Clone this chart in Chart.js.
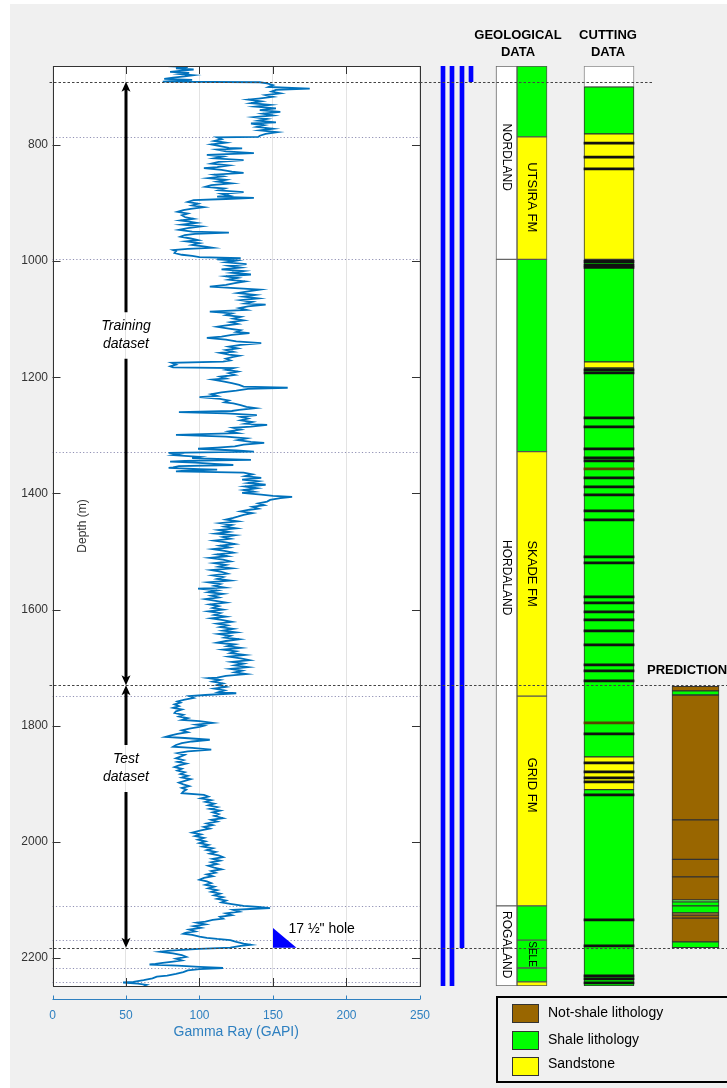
<!DOCTYPE html>
<html>
<head>
<meta charset="utf-8">
<script src="https://cdn.jsdelivr.net/npm/chart.js@4.4.1/dist/chart.umd.min.js"></script>
<style>
  html, body { margin: 0; padding: 0; background: #fff; }
  #page { position: relative; width: 727px; height: 1088px; overflow: hidden;
          font-family: "Liberation Sans", Arial, sans-serif; }
  #fig { position: absolute; left: 10px; top: 4px; right: 0; bottom: 0; background: #f0f0f0; }
  #logChart { position: absolute; left: 0; top: 0; }
  #trackChart { position: absolute; left: 420px; top: 0; }
  .hdr { position: absolute; font-weight: bold; font-size: 13px; line-height: 17px;
         text-align: center; color: #000; white-space: nowrap; }
  #legend { position: absolute; left: 496px; top: 996px; width: 245px; height: 87px;
            box-sizing: border-box; border: 2px solid #000; }
  .sw { position: absolute; left: 14px; width: 27px; height: 19px; box-sizing: border-box;
        border: 1px solid #333; }
  .lb { position: absolute; left: 50px; font-size: 14px; line-height: 19px; color: #000; white-space: nowrap; }
</style>
</head>
<body>
<div id="page">
  <div id="fig"></div>
  <canvas id="logChart" width="452" height="1088"></canvas>
  <canvas id="trackChart" width="307" height="1088"></canvas>
  <div class="hdr" style="left:468px;top:26px;width:100px;">GEOLOGICAL<br>DATA</div>
  <div class="hdr" style="left:558px;top:26px;width:100px;">CUTTING<br>DATA</div>
  <div class="hdr" style="left:647px;top:661px;text-align:left;">PREDICTION</div>
  <div id="legend">
    <div class="sw" style="top:6px;background:#996600;"></div>
    <div class="lb" style="top:5px;">Not-shale lithology</div>
    <div class="sw" style="top:33px;background:#00ff00;"></div>
    <div class="lb" style="top:32px;">Shale lithology</div>
    <div class="sw" style="top:59px;background:#ffff00;"></div>
    <div class="lb" style="top:56px;">Sandstone</div>
  </div>
</div>
<script>
// ---- gamma ray log (depth in m, GR in GAPI) ----
const grDepth = [
  664,666,668,670,672,674,676,678,680,682, 684,686,688,690,691,
  692,694,697,700,703,705,708,711,714,717, 720,722,725,728,731,734,737,740,743,746,
  749,752,755,758,761,763,766,769,772,775, 778,781,784,786,
  787,790,793,796,799,802,805,806,808,811, 814,817,820,823,826,829,832,835,838,840,
  843,846,848,851,854,857,860,863,866,869, 872,875,878,881,884,887,889,891,893,895,
  898,901,904,907,910,912,915,918,921,924, 927,930,932,934,937,940,943,946,949,951,
  953,955,958,961,964,966,969,972,975,977, 979,981,983,986,989,991,993,995,997,
  999,1002,1005,1008,1011,1014,1017,1020,1023,1026, 1029,1032,1035,1038,1041,1044,1047,1049,1052,
  1055,1058,1061,1064,1067,1070,1073,1075,1078,1081, 1084,1087,1090,1093,1096,1099,1102,1105,1108,1111,
  1113,1116,1119,1122,1124,1127,1130,1132,1135,1138, 1141,1144,1147,1150,1153,1156,1158,1161,1163,1165,
  1168,1171,1173,
  1175,1178,1181,1183,1184,1187,1190,1193,1196,1199, 1202,1204,1207,1210,1213,1216,1218,1220,1223,1226,
  1229,1232,1234,1237,1240,1243,1245,1248,1251,1253, 1256,1258,1260,1262,1265,1268,1271,1274,1277,1280,
  1282,1285,1287,1290,1293,1296,1299,1302,1305,1308, 1311,1313,1316,1319,1321,1323,1326,1328,
  1330,1332,1334,1337,1339,1342,1344,1345,1347,1349, 1351,1353,1355,1356,1358,1359,1361,1362,1364,
  1367,1370,1373,1376,1379,1382,1385,1388,1391,1394, 1397,1399,1402,1404,1406,1408,1411,1414,1417,1420,
  1423,1426,1428,1431,1434,1437,1440,1442,
  1445,1448,1451,1454,1457,1460,1463,1466,1469,1472, 1475,1478,1481,1484,1487,1490,1493,1496,1499,1502,
  1505,1508,1511,1514,1517,1520,1523,1526,1529,1532, 1535,1538,1541,1544,1547,1550,1553,1556,1559,1562,
  1564,1567,1570,1573,1576,1579,1582,1585,1588,1591, 1594,1597,1600,
  1603,1606,1609,1612,1615,1618,1621,1624,1627,1630, 1633,1636,1639,1642,1645,1648,1651,1654,1657,1660,
  1663,1666,1669,1672,1675,1678,1681,1684,1687,1690, 1693,1696,1699,1702,1705,1708,1711,1714,1717,1718,
  1721,1724,1727,1730,1733,1736,1739,1742,1744,1747, 1749,
  1752,1755,1758,1760,1763,1766,1769,1772,1775,1778, 1781,1784,1787,1790,1792,1795,1798,1800,1802,1805,
  1808,1811,1814,1817,1819,1821,1824,1827,1830,1833, 1836,1838,1841,1844,1847,1850,1853,
  1856,1859,1862,1865,1868,1871,1874,1877,1880,1883, 1886,1889,1892,1895,1898,1901,1904,1907,1910,1913,
  1916,1919,
  1922,1925,1928,1931,1934,1937,1940,1943,1946,1949, 1952,1955,1959,1962,1965,1968,1971,1974,1977,1980,
  1984,1987,1990,1993,1996,1999,
  2002,2005,2008,2011,2014,2017,2020,2023,2026,2029, 2032,2035,2038,2041,2044,2047,2050,2053,2056,2059,
  2062,2065,2068,2071,2074,2077,2080,2083,2086,2089, 2092,2095,2098,2101,2104,2107,2110,2112,2114,2115,
  2117,
  2120,2123,2126,2129,2132,2134,2137,2139,2142,2145, 2148,2151,2154,2156,2158,2160,2163,2165,2167,2169,
  2172,2175,2177,2179,2182,2184,2187,2189,2192,2195, 2198,2201,2204,2206,2208,2210,2211,2213,2215,2217,
  2219,2221,2224,2227,2230,2232,2235,2238,2241,2242, 2244,2246,2248
];
const grValue = [
  78,92,84,96,88,80,93,87,96,90, 82,76,95,80,75,
  141,146,150,147,175,152,149,155,145,150, 140,133,142,135,148,138,152,141,155,143,
  150,137,146,140,152,135,144,139,150,141, 153,145,141,140,
  112,115,110,118,108,114,120,129,112,118, 137,105,116,110,130,113,108,120,112,103,
  115,122,130,110,116,106,118,112,122,108, 104,117,113,130,115,120,112,137,118,96,
  92,99,95,103,94,89,85,92,88,90, 96,87,93,98,88,101,92,86,95,120,
  97,90,87,94,99,91,100,95,104,109, 92,82,84,83,88,95,100,128,112,
  125,118,132,120,128,115,130,122,135,118, 126,120,131,124,118,107,127,141,133,
  126,138,130,140,128,136,131,145,133,127, 132,107,122,118,128,123,130,121,126,117,
  112,120,128,125,134,122,115,105,118,125, 142,128,120,126,118,123,114,120,127,123,
  118,121,116,
  81,84,80,82,123,118,126,120,124,114, 118,109,116,122,127,130,160,133,125,115,
  108,112,100,114,120,117,123,128,132,138, 127,122,86,118,139,128,133,128,136,131,
  146,135,123,128,120,126,84,118,132,126, 135,144,130,124,112,99,125,137,
  79,86,82,100,95,135,90,80,97,110, 123,86,82,79,100,112,88,84,130,
  136,131,142,129,140,133,145,131,139,130, 137,129,142,150,163,155,148,146,140,144,
  136,140,134,128,136,130,126,123,
  118,126,114,122,117,125,113,120,111,124, 116,121,110,118,124,114,120,109,117,123,
  112,119,107,116,121,110,118,113,122,108, 115,119,109,116,112,121,106,114,110,117,
  99,112,106,116,108,113,104,111,118,107, 113,109,116,
  106,114,110,118,108,116,122,112,119,114, 123,116,125,113,121,117,127,118,112,124,
  119,128,116,125,121,131,120,128,134,122, 130,124,133,121,129,124,132,118,112,106,
  114,109,116,112,118,110,117,113,125,104, 93,
  96,90,85,87,83,86,82,88,84,83, 89,86,92,88,100,109,98,103,100,93,
  88,92,85,80,77,90,107,95,88,84, 82,95,108,92,85,90,87,
  84,89,85,91,86,83,88,85,90,87, 92,88,94,90,86,89,93,88,91,89,
  88,103,
  106,101,108,104,110,106,112,107,114,109, 113,110,116,108,112,105,109,103,107,101,
  95,101,97,103,99,104,
  100,106,102,109,105,111,107,113,116,109, 114,108,112,106,110,115,108,111,105,109,
  103,100,105,108,104,110,106,112,108,114, 110,116,112,118,115,122,130,140,148,138,
  123,
  127,118,122,114,116,109,104,98,104,96, 101,93,97,91,89,95,100,105,112,121,
  125,130,135,128,121,100,80,73,82,88, 91,84,88,82,75,70,66,85,100,116,
  100,92,89,84,78,71,68,62,55,48, 58,64,62
];
if (grDepth.length !== grValue.length) throw new Error('GR arrays differ: ' + grDepth.length + ' / ' + grValue.length);

const depthTicks = [800, 1000, 1200, 1400, 1600, 1800, 2000, 2200];

// dataset split / casing markers (dashed lines) and arrow texts
const splitDepths = [691, 1730, 2182];
const trainRange = [691, 1730], trainGap = [1088, 1168];
const testRange = [1730, 2182], testGap = [1833, 1914];
const holeTop = 2148, holeBase = 2182, holeGR = [150, 166];

// ---- geological data ----
const groupTop = [664, 997, 2110];
const groupBase = [997, 2110, 2248];
const groupName = ['NORDLAND', 'HORDALAND', 'ROGALAND'];
const groupLabelDepth = [821, 1545, 2177];

const formTop = [664, 786, 997, 1328, 1749, 2110, 2169, 2217, 2241];
const formBase = [786, 997, 1328, 1749, 2110, 2169, 2217, 2241, 2248];
const formLith = ['shale', 'sand', 'shale', 'sand', 'sand', 'shale', 'shale', 'shale', 'sand'];
const formName = ['', 'UTSIRA FM', '', 'SKADE FM', 'GRID FM', '', 'SELE', '', ''];
const formLabelDepth = [0, 890, 0, 1538, 1902, 0, 2193, 0, 0];

// ---- cutting data ----
const cutTop = [664, 700, 781, 997, 1173.5, 1184, 1853.5, 1910];
const cutBase = [700, 781, 997, 1173.5, 1184, 1853.5, 1910, 2248];
const cutLith = ['none', 'shale', 'sand', 'shale', 'sand', 'shale', 'sand', 'shale'];
const cutThinDepth = [796.6, 820.7, 841.3, 1000.6, 1006.3, 1010.9, 1187.3, 1192.5, 1270, 1285.4,
  1323.3, 1338.8, 1344, 1357.7, 1373.2, 1388.7, 1402.5, 1430, 1445.5, 1509.2,
  1519.5, 1578, 1588.3, 1603.9, 1617.7, 1636.6, 1660.7, 1695.2, 1705.5, 1722.7,
  1795, 1814, 1863.9, 1879.4, 1889.7, 1896.6, 1918.9, 2134, 2178.9, 2230.5, 2235.7, 2242.6];
const cutThinLith = ['sand', 'sand', 'sand', 'shale', 'shale', 'shale', 'shale', 'shale', 'shale', 'shale',
  'shale', 'shale', 'shale', 'notshale', 'shale', 'shale', 'shale', 'shale', 'shale', 'shale',
  'shale', 'shale', 'shale', 'shale', 'shale', 'shale', 'shale', 'shale', 'shale', 'shale',
  'notshale', 'shale', 'sand', 'sand', 'sand', 'sand', 'shale', 'shale', 'shale', 'shale', 'shale', 'shale'];

// ---- prediction ----
const predTop = [1732, 1740, 1747, 1962, 2030, 2060, 2100, 2103, 2110, 2122, 2126, 2131, 2172];
const predBase = [1740, 1747, 1962, 2030, 2060, 2100, 2103, 2110, 2122, 2126, 2131, 2172, 2182];
const predLith = ['notshale', 'shale', 'notshale', 'notshale', 'notshale', 'notshale', 'shale', 'shale',
  'shale', 'notshale', 'notshale', 'notshale', 'shale'];

// ---- casing strings (blue bars) ----
const casingTop = [664, 664, 664, 664];
const casingBase = [2248, 2248, 2182, 691];

const LITH_COLOR = { shale: '#00ff00', sand: '#ffff00', notshale: '#996600', none: '#ffffff' };
// thin cutting beds render as dark seams
const THIN_COLOR = { shale: '#111', sand: '#111', notshale: '#5a4400', none: '#111' };
const FONT = '"Liberation Sans", Arial, sans-serif';
const AXIS_BLUE = '#2f80c0';

// track layout of the right panel (x units = px of that canvas)
const TRACK_X = { casing: [23, 32, 42, 51], group: 86.5, formation: 112, cutting: 189, prediction: 275.5 };
const TRACK_W = { casing: 4, group: 21, formation: 30, cutting: 50, prediction: 47 };
const splitLineEnd = [232, 307, 307];

// ================= left chart: gamma ray log =================
const logDecor = {
  id: 'logDecor',
  beforeDraw(chart) {
    const { ctx, chartArea: a } = chart;
    ctx.save();
    ctx.fillStyle = '#fff';
    ctx.fillRect(a.left, a.top, a.right - a.left, a.bottom - a.top);
    ctx.restore();
  },
  beforeDatasetsDraw(chart) {
    const { ctx, chartArea: a, scales: { y } } = chart;
    ctx.save();
    ctx.strokeStyle = '#9090b4';
    ctx.lineWidth = 1;
    ctx.setLineDash([1.2, 2.2]);
    formTop.slice(1).forEach(d => {
      const py = Math.round(y.getPixelForValue(d)) + 0.5;
      ctx.beginPath(); ctx.moveTo(a.left, py); ctx.lineTo(a.right, py); ctx.stroke();
    });
    ctx.restore();
  },
  afterDatasetsDraw(chart) {
    const { ctx, chartArea: a, scales: { x, y } } = chart;
    ctx.save();
    // split lines
    ctx.strokeStyle = '#444';
    ctx.lineWidth = 1;
    ctx.setLineDash([2.5, 2]);
    splitDepths.forEach(d => {
      const py = Math.round(y.getPixelForValue(d)) + 0.5;
      ctx.beginPath(); ctx.moveTo(a.left - 3, py); ctx.lineTo(a.right, py); ctx.stroke();
    });
    ctx.setLineDash([]);

    // axes box and inward ticks
    ctx.strokeStyle = '#333';
    ctx.lineWidth = 1;
    ctx.strokeRect(Math.round(a.left) + 0.5, Math.round(a.top) + 0.5,
      Math.round(a.right - a.left), Math.round(a.bottom - a.top));
    ctx.beginPath();
    x.ticks.forEach(t => {
      if (t.value <= 0 || t.value >= 250) return;
      const px = Math.round(x.getPixelForValue(t.value)) + 0.5;
      ctx.moveTo(px, a.top); ctx.lineTo(px, a.top + 8);
      ctx.moveTo(px, a.bottom); ctx.lineTo(px, a.bottom - 8);
    });
    depthTicks.forEach(v => {
      const py = Math.round(y.getPixelForValue(v)) + 0.5;
      ctx.moveTo(a.left, py); ctx.lineTo(a.left + 8, py);
      ctx.moveTo(a.right, py); ctx.lineTo(a.right - 8, py);
    });
    ctx.stroke();

    // separate blue GR axis line
    const by = a.bottom + 13.5;
    ctx.strokeStyle = AXIS_BLUE;
    ctx.beginPath();
    ctx.moveTo(x.getPixelForValue(0), by); ctx.lineTo(x.getPixelForValue(250), by);
    x.ticks.forEach(t => {
      const px = Math.round(x.getPixelForValue(t.value)) + 0.5;
      ctx.moveTo(px, by); ctx.lineTo(px, by - 4);
    });
    ctx.stroke();

    // Depth (m) label
    ctx.fillStyle = '#333';
    ctx.font = '12px ' + FONT;
    ctx.textAlign = 'center';
    ctx.textBaseline = 'middle';
    ctx.translate(a.left + 30.5, (a.top + a.bottom) / 2);
    ctx.rotate(-Math.PI / 2);
    ctx.fillText('Depth (m)', 0, 0);
    ctx.setTransform(1, 0, 0, 1, 0, 0);

    // dataset arrows
    const ax = x.getPixelForValue(50);
    const arrow = (range, gap) => {
      const t = y.getPixelForValue(range[0]), b = y.getPixelForValue(range[1]);
      const g0 = y.getPixelForValue(gap[0]), g1 = y.getPixelForValue(gap[1]);
      ctx.strokeStyle = '#000';
      ctx.lineWidth = 3;
      ctx.beginPath();
      ctx.moveTo(ax, t + 6); ctx.lineTo(ax, g0);
      ctx.moveTo(ax, g1); ctx.lineTo(ax, b - 6);
      ctx.stroke();
      ctx.fillStyle = '#000';
      ctx.beginPath();
      ctx.moveTo(ax, t); ctx.lineTo(ax - 4.5, t + 10); ctx.lineTo(ax, t + 7.5); ctx.lineTo(ax + 4.5, t + 10);
      ctx.closePath(); ctx.fill();
      ctx.beginPath();
      ctx.moveTo(ax, b); ctx.lineTo(ax - 4.5, b - 10); ctx.lineTo(ax, b - 7.5); ctx.lineTo(ax + 4.5, b - 10);
      ctx.closePath(); ctx.fill();
      return (g0 + g1) / 2;
    };
    ctx.font = 'italic 14px ' + FONT;
    ctx.textAlign = 'center';
    ctx.textBaseline = 'middle';
    let mid = arrow(trainRange, trainGap);
    ctx.fillText('Training', ax, mid - 9);
    ctx.fillText('dataset', ax, mid + 9);
    mid = arrow(testRange, testGap);
    ctx.fillText('Test', ax, mid - 9);
    ctx.fillText('dataset', ax, mid + 9);

    // 17 1/2" hole marker
    ctx.fillStyle = '#0000ff';
    ctx.beginPath();
    ctx.moveTo(x.getPixelForValue(holeGR[0]), y.getPixelForValue(holeTop));
    ctx.lineTo(x.getPixelForValue(holeGR[0]), y.getPixelForValue(holeBase));
    ctx.lineTo(x.getPixelForValue(holeGR[1]), y.getPixelForValue(holeBase));
    ctx.closePath(); ctx.fill();
    ctx.fillStyle = '#000';
    ctx.font = '14px ' + FONT;
    ctx.textAlign = 'left';
    ctx.fillText('17 \u00bd" hole', x.getPixelForValue(160.5), y.getPixelForValue(holeTop) + 1);
    ctx.restore();
  }
};

new Chart(document.getElementById('logChart'), {
  type: 'scatter',
  data: {
    datasets: [{
      data: grDepth.map((d, i) => ({ x: grValue[i], y: d })),
      showLine: true,
      borderColor: '#0072bd',
      borderWidth: 1.8,
      pointRadius: 0,
      tension: 0
    }]
  },
  options: {
    responsive: false,
    animation: false,
    layout: { padding: { top: 66, right: 0, left: 0, bottom: 0 } },
    plugins: { legend: { display: false }, tooltip: { enabled: false } },
    scales: {
      x: {
        type: 'linear', min: 0, max: 250,
        ticks: { stepSize: 50, color: AXIS_BLUE, font: { family: FONT, size: 12 }, padding: 22,
                 callback: v => String(v) },
        grid: { color: '#e3e3e3', drawTicks: false },
        border: { display: false },
        title: { display: true, text: 'Gamma Ray (GAPI)', color: AXIS_BLUE,
                 font: { family: FONT, size: 14 }, padding: { top: 0, bottom: 47 } },
        afterFit(s) { s.height = 102; }
      },
      y: {
        type: 'linear', reverse: true, min: 664, max: 2248,
        afterBuildTicks(s) { s.ticks = depthTicks.map(v => ({ value: v })); },
        ticks: { color: '#333', font: { family: FONT, size: 12 }, padding: 4.5, callback: v => String(v) },
        grid: { display: false, drawTicks: false },
        border: { display: false },
        afterFit(s) { s.width = 52.5; }
      }
    }
  },
  plugins: [logDecor]
});

// ================= right chart: tracks =================
function layerData(tops, bases, liths, xPos) {
  return tops.map((t, i) => ({ x: xPos, y: [t, bases[i]], lith: liths[i] }));
}
const barStyle = {
  stack: 'tracks',
  borderWidth: 1,
  borderSkipped: false,
  backgroundColor: c => LITH_COLOR[c.raw.lith],
  borderColor: '#333'
};
const thinHalf = 1.8;

const trackDecor = {
  id: 'trackDecor',
  afterDatasetsDraw(chart) {
    const { ctx, scales: { x, y } } = chart;
    ctx.save();
    ctx.fillStyle = '#000';
    ctx.textAlign = 'center';
    ctx.textBaseline = 'middle';
    const vText = (txt, xv, d, size, room) => {
      ctx.font = size + 'px ' + FONT;
      const w = ctx.measureText(txt).width;
      if (room && w > room) { ctx.font = (size * room / w).toFixed(1) + 'px ' + FONT; }
      ctx.save();
      ctx.translate(x.getPixelForValue(xv), y.getPixelForValue(d));
      ctx.rotate(Math.PI / 2);
      ctx.fillText(txt, 0, 0);
      ctx.restore();
    };
    groupName.forEach((n, i) => vText(n, TRACK_X.group, groupLabelDepth[i], 12));
    formName.forEach((n, i) => {
      if (!n) return;
      const room = y.getPixelForValue(formBase[i]) - y.getPixelForValue(formTop[i]) - 2;
      vText(n, TRACK_X.formation, formLabelDepth[i], 13, room);
    });
    // split lines over the tracks
    ctx.strokeStyle = '#444';
    ctx.lineWidth = 1;
    ctx.setLineDash([2.5, 2]);
    splitDepths.forEach((d, i) => {
      const py = Math.round(y.getPixelForValue(d)) + 0.5;
      ctx.beginPath(); ctx.moveTo(0, py); ctx.lineTo(splitLineEnd[i], py); ctx.stroke();
    });
    ctx.restore();
  }
};

new Chart(document.getElementById('trackChart'), {
  type: 'bar',
  data: {
    datasets: [
      Object.assign({}, barStyle, {
        order: 0, barThickness: TRACK_W.cutting,
        data: cutThinDepth.map((d, i) => ({ x: TRACK_X.cutting, y: [d - thinHalf, d + thinHalf], lith: cutThinLith[i] })),
        backgroundColor: c => THIN_COLOR[c.raw.lith],
        borderColor: '#000', borderWidth: 0
      }),
      Object.assign({}, barStyle, {
        order: 1, barThickness: TRACK_W.cutting,
        data: layerData(cutTop, cutBase, cutLith, TRACK_X.cutting),
        borderColor: c => (c.raw && c.raw.lith === 'none') ? '#888' : '#333'
      }),
      Object.assign({}, barStyle, {
        order: 1, barThickness: TRACK_W.prediction,
        data: layerData(predTop, predBase, predLith, TRACK_X.prediction)
      }),
      Object.assign({}, barStyle, {
        order: 1, barThickness: TRACK_W.formation,
        data: layerData(formTop, formBase, formLith, TRACK_X.formation),
        borderColor: '#555'
      }),
      Object.assign({}, barStyle, {
        order: 1, barThickness: TRACK_W.group,
        data: groupTop.map((t, i) => ({ x: TRACK_X.group, y: [t, groupBase[i]], lith: 'none' })),
        borderColor: '#666'
      }),
      {
        stack: 'tracks', order: 1, barThickness: TRACK_W.casing,
        data: TRACK_X.casing.map((xp, i) => ({ x: xp, y: [casingTop[i], casingBase[i]] })),
        backgroundColor: '#0000ff', borderWidth: 0
      }
    ]
  },
  options: {
    responsive: false,
    animation: false,
    layout: { padding: { top: 66, bottom: 102, left: 0, right: 0 } },
    plugins: { legend: { display: false }, tooltip: { enabled: false } },
    scales: {
      x: { type: 'linear', min: 0, max: 307, display: false, offset: false, stacked: true, grid: { display: false } },
      y: { type: 'linear', reverse: true, min: 664, max: 2248, display: false, stacked: false }
    }
  },
  plugins: [trackDecor]
});
</script>
</body>
</html>
